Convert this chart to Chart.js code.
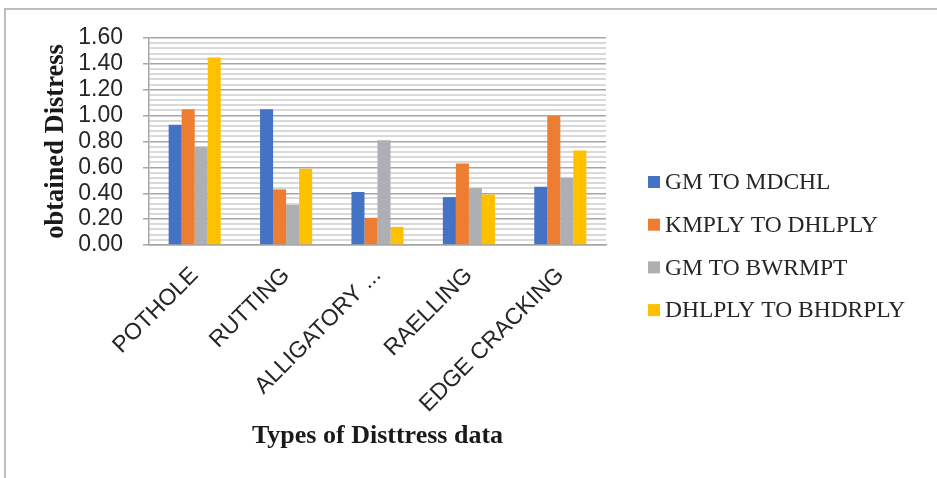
<!DOCTYPE html>
<html>
<head>
<meta charset="utf-8">
<script src="https://cdn.jsdelivr.net/npm/chart.js@4.4.1/dist/chart.umd.min.js"></script>
<style>
  html, body { margin: 0; padding: 0; background: #fff; }
  #wrap { position: relative; width: 937px; height: 478px; overflow: hidden; }
  #frame { position: absolute; left: 4px; top: 8px; width: 1000px; height: 600px;
           border-left: 2px solid #bdbdbd; border-top: 2px solid #bdbdbd; }
  #chart { position: absolute; left: 0; top: 0; }
</style>
</head>
<body>
<div id="wrap">
  <div id="frame"></div>
  <canvas id="chart" width="937" height="478"></canvas>
</div>
<script>
// Data
const categories = ["POTHOLE", "RUTTING", "ALLIGATORY ...", "RAELLING", "EDGE CRACKING"];
const seriesNames = ["GM TO MDCHL", "KMPLY TO DHLPLY", "GM TO BWRMPT", "DHLPLY TO BHDRPLY"];
const gmToMdchl = [0.93, 1.05, 0.41, 0.37, 0.45];
const kmplyToDhlply = [1.05, 0.43, 0.21, 0.63, 1.00];
const gmToBwrmpt = [0.76, 0.31, 0.81, 0.44, 0.52];
const dhlplyToBhdrply = [1.45, 0.59, 0.14, 0.39, 0.73];
const colors = ["#4472C4", "#ED7D31", "#AEAFB3", "#FFC000"];

const yMax = 1.6;
const minorStep = 0.04;

function isMajor(v) {
    return Math.round(v * 100) % 20 === 0;
}

// legend drawn by hand so box/text spacing matches the original
const sideLegend = {
    id: "sideLegend",
    afterDraw(chart) {
        const c = chart.ctx;
        c.save();
        c.font = "23.5px 'Liberation Serif', 'Times New Roman', serif";
        c.textBaseline = "middle";
        chart.data.datasets.forEach((ds, i) => {
            let y = 182 + i * 42.7;
            c.fillStyle = ds.backgroundColor;
            c.fillRect(648, y - 6, 12, 12);
            c.fillStyle = "#262626";
            c.fillText(ds.label, 665, y + 1);
        });
        c.restore();
    }
};

const ctx = document.getElementById("chart").getContext("2d");
new Chart(ctx, {
    type: "bar",
    data: {
        labels: categories,
        datasets: [
            { label: seriesNames[0], data: gmToMdchl, backgroundColor: colors[0] },
            { label: seriesNames[1], data: kmplyToDhlply, backgroundColor: colors[1] },
            { label: seriesNames[2], data: gmToBwrmpt, backgroundColor: colors[2] },
            { label: seriesNames[3], data: dhlplyToBhdrply, backgroundColor: colors[3] }
        ]
    },
    options: {
        responsive: false,
        animation: false,
        devicePixelRatio: 1,
        layout: { padding: { left: 0, top: 38, right: 331, bottom: 0 } },
        datasets: { bar: { categoryPercentage: 0.57, barPercentage: 1.0 } },
        plugins: {
            legend: { display: false },
            tooltip: { enabled: false }
        },
        scales: {
            x: {
                afterFit(scale) { scale.height = 233; },
                grid: { display: false },
                border: { display: true, color: "#a6a6a6", width: 1.5 },
                ticks: {
                    minRotation: 45,
                    maxRotation: 45,
                    autoSkip: false,
                    padding: 9,
                    color: "#262626",
                    font: { family: "'Liberation Sans', Arial, sans-serif", size: 23 }
                },
                title: {
                    display: true,
                    text: "Types of Disttress data",
                    color: "#1a1a1a",
                    padding: { top: 0, bottom: 26 },
                    font: { family: "'Liberation Serif', 'Times New Roman', serif", size: 26, weight: "bold" }
                }
            },
            y: {
                min: 0,
                max: yMax,
                afterFit(scale) { scale.width = 149; },
                border: { display: true, color: "#a6a6a6", width: 1.5 },
                grid: {
                    color: (c) => isMajor(c.tick.value) ? "#a6a6a6" : "#d9d9d9",
                    lineWidth: (c) => isMajor(c.tick.value) ? 1.5 : 2,
                    tickColor: (c) => isMajor(c.tick.value) ? "#a6a6a6" : "rgba(0,0,0,0)",
                    tickLength: 6
                },
                ticks: {
                    stepSize: minorStep,
                    autoSkip: false,
                    padding: 20,
                    color: "#262626",
                    font: { family: "'Liberation Sans', Arial, sans-serif", size: 23 },
                    callback: (v) => isMajor(v) ? v.toFixed(2) : ""
                },
                title: {
                    display: true,
                    text: "obtained Distress",
                    color: "#1a1a1a",
                    padding: { top: 40, bottom: 0 },
                    font: { family: "'Liberation Serif', 'Times New Roman', serif", size: 26.5, weight: "bold" }
                }
            }
        }
    },
    plugins: [sideLegend]
});
</script>
</body>
</html>
